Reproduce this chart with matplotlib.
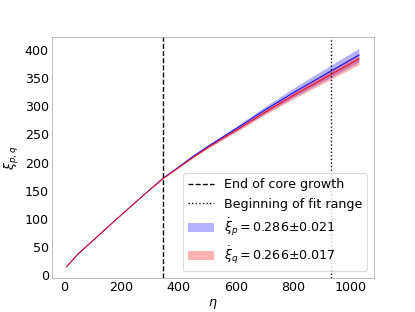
import matplotlib
matplotlib.use('Agg')
import matplotlib.pyplot as plt
import numpy as np

# values
eta = [9, 50, 100, 178, 260, 345, 400, 450, 500, 550, 600, 700, 800, 930, 1030]
xi_p = [15, 38, 61, 97, 134, 172, 192, 211, 228, 244, 260, 293, 324, 362, 391]
xi_q = [15, 38, 61, 97, 134, 171, 191, 209, 226, 242, 257, 289, 319, 356, 384]
dp = [0, 0, 0, 0, 0, 0, 0.7, 1.5, 2.3, 3.1, 4, 6, 8, 10.5, 12]
dq = [0, 0, 0, 0, 0, 0, 0.6, 1.2, 1.8, 2.4, 3, 4.5, 6, 8.5, 10]

eta_core = 345
eta_fit = 932
lab_p = r'$\dot{\xi}_p = $0.286±0.021'
lab_q = r'$\dot{\xi}_q = $0.266±0.017'

plt.rcParams['font.size'] = 14
plt.rcParams['axes.edgecolor'] = '0.65'

eta = np.array(eta)
xi_p, xi_q = np.array(xi_p), np.array(xi_q)
dp, dq = np.array(dp), np.array(dq)

fig, ax = plt.subplots(figsize=(415/65, 312/65), dpi=65)

ax.plot(eta, xi_p, color='blue', lw=1)
ax.plot(eta, xi_q, color='red', lw=1)
ax.axvline(eta_core, color='k', ls='--', lw=1.5, label='End of core growth')
ax.axvline(eta_fit, color='k', ls=':', lw=1.5, label='Beginning of fit range')
ax.fill_between(eta, xi_p - dp, xi_p + dp, color='blue', alpha=0.3, lw=0, label=lab_p)
ax.fill_between(eta, xi_q - dq, xi_q + dq, color='red', alpha=0.3, lw=0, label=lab_q)

ax.tick_params(length=0)
ax.set_xlabel(r'$\eta$')
ax.set_ylabel(r'$\xi_{p,q}$')
ax.legend(loc='lower right')

plt.savefig('out.png', dpi=65)
plt.close()
